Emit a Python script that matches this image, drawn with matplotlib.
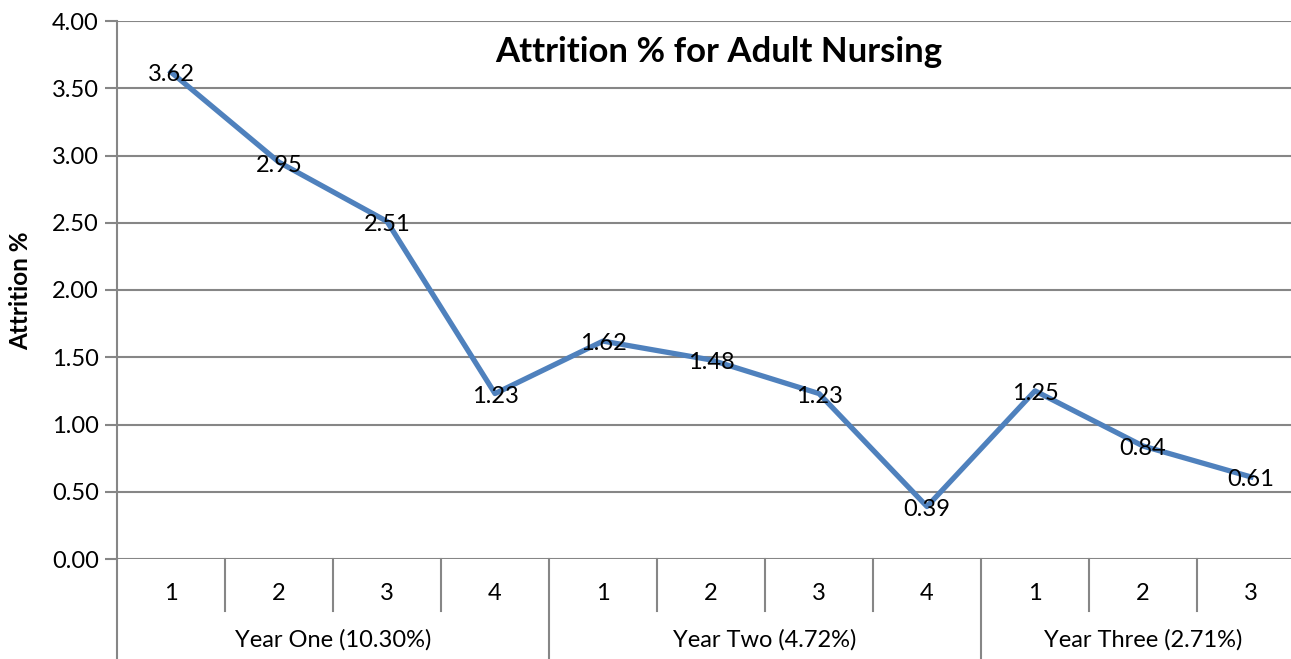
import matplotlib
matplotlib.use("Agg")
import matplotlib.pyplot as plt
import numpy as np

title = "Attrition % for Adult Nursing"
y_label = "Attrition %"
quarters = ["1", "2", "3", "4", "1", "2", "3", "4", "1", "2", "3"]
groups = ["Year One (10.30%)", "Year Two (4.72%)", "Year Three (2.71%)"]
group_sizes = [4, 4, 3]
values = [3.62, 2.95, 2.51, 1.23, 1.62, 1.48, 1.23, 0.39, 1.25, 0.84, 0.61]
y_ticks = [0.0, 0.5, 1.0, 1.5, 2.0, 2.5, 3.0, 3.5, 4.0]

plt.rcParams['font.family'] = ['Lato', 'DejaVu Sans']

W, H = 1291, 659
fig = plt.figure(figsize=(W / 100, H / 100), dpi=100)
left_px, right_px, top_px, bot_px = 117, 1305, 21, 559
ax = fig.add_axes([left_px / W, 1 - bot_px / H, (right_px - left_px) / W, (bot_px - top_px) / H])

grid_col = "#868686"
line_col = "#4F81BD"
x = np.arange(len(values))
fs = 17

ax.set_xlim(-0.5, len(values) - 0.5)
ax.set_ylim(0, 4)
ax.set_yticks(y_ticks)
ax.set_yticklabels([f"{v:.2f}" for v in y_ticks], fontsize=fs)
ax.tick_params(axis='y', length=9, width=1.5, color=grid_col, pad=4)
ax.set_xticks([])
for s in ["top", "right", "bottom"]:
    ax.spines[s].set_visible(False)
ax.spines["left"].set_color(grid_col)
ax.spines["left"].set_linewidth(1.5)
for v in y_ticks:
    ax.axhline(v, color=grid_col, lw=1.5, zorder=1)

ax.plot(x, values, color=line_col, lw=3.8, solid_joinstyle='round', zorder=3)
for xi, v in zip(x, values):
    ax.annotate(f"{v:.2f}", (xi, v), xytext=(0, -2), textcoords="offset points",
                ha="center", va="center", fontsize=fs, color="black", zorder=4)

fig.text(21 / W, 1 - 291 / H, y_label, rotation=90, ha="center", va="center",
         fontsize=17.5, fontweight="bold")

ax_h = bot_px - top_px
trans = ax.get_xaxis_transform()
for xi, q in zip(x, quarters):
    ax.text(xi, -34 / ax_h, q, transform=trans, ha="center", va="center", fontsize=fs)
bounds = [0]
for g in group_sizes:
    bounds.append(bounds[-1] + g)
for k in range(len(values) + 1):
    xb = k - 0.5
    y0 = -(H - bot_px) / ax_h if k in bounds else -52 / ax_h
    ax.plot([xb, xb], [0, y0], transform=trans, color=grid_col, lw=1.5, clip_on=False)
for i, g in enumerate(groups):
    c = (bounds[i] + bounds[i + 1] - 1) / 2
    ax.text(c, -81 / ax_h, g, transform=trans, ha="center", va="center", fontsize=fs)

fig.text(719 / W, 1 - 52 / H, title, ha="center", va="center", fontsize=25, fontweight="bold")

fig.savefig("out.png", dpi=100)
